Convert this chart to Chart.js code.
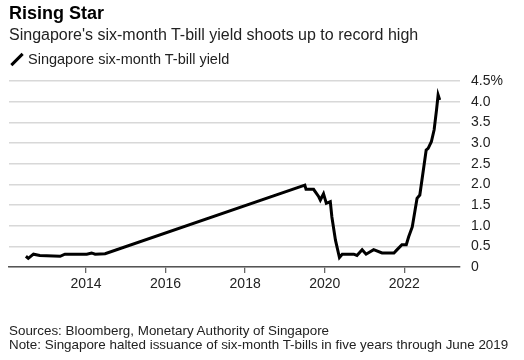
<!DOCTYPE html>
<html>
<head>
<meta charset="utf-8">
<script src="https://cdn.jsdelivr.net/npm/chart.js@4"></script>
<style>
  html, body { margin: 0; padding: 0; background: #fff; }
  body { width: 524px; height: 360px; position: relative; overflow: hidden;
         font-family: "Liberation Sans", Arial, sans-serif; color: #222; }
  .txt { position: absolute; left: 9px; white-space: nowrap; }
  #title { top: 4px; font-size: 18px; line-height: 18px; font-weight: bold; color: #000; }
  #subtitle { top: 27px; font-size: 16px; line-height: 16px; }
  #legend { top: 52px; font-size: 14.5px; line-height: 14.5px; left: 28px; }
  #legend-icon { position: absolute; left: 9px; top: 58px; width: 16px; height: 3px;
                 background: #000; transform: rotate(-45deg); }
  #footer { top: 324px; font-size: 13.4px; line-height: 14px; color: #222; }
  #wrap { position: absolute; left: 0; top: 0; width: 524px; height: 360px; }
</style>
</head>
<body>
<div id="wrap"><canvas id="chart"></canvas></div>
<div class="txt" id="title">Rising Star</div>
<div class="txt" id="subtitle">Singapore's six-month T-bill yield shoots up to record high</div>
<div id="legend-icon"></div>
<div class="txt" id="legend">Singapore six-month T-bill yield</div>
<div class="txt" id="footer">Sources: Bloomberg, Monetary Authority of Singapore<br>Note: Singapore halted issuance of six-month T-bills in five years through June 2019</div>
<script>
// Singapore six-month T-bill yield, % (dates as decimal years)
const years = [
  2012.49, 2012.55, 2012.68, 2012.84, 2013.35, 2013.47, 2014.02, 2014.14, 2014.23, 2014.48,
  2019.50, 2019.53, 2019.72, 2019.85, 2019.89, 2019.97, 2020.04, 2020.14, 2020.18, 2020.27,
  2020.37, 2020.44, 2020.73, 2020.81, 2020.94, 2021.04, 2021.23, 2021.44, 2021.74, 2021.82,
  2021.94, 2022.05, 2022.11, 2022.20, 2022.32, 2022.39, 2022.49, 2022.55, 2022.60, 2022.68,
  2022.75, 2022.81, 2022.85, 2022.89
];
const yieldPct = [
  0.26, 0.21, 0.31, 0.28, 0.26, 0.31, 0.31, 0.34, 0.31, 0.32,
  1.98, 1.88, 1.88, 1.70, 1.62, 1.77, 1.54, 1.58, 1.21, 0.65,
  0.23, 0.31, 0.31, 0.28, 0.42, 0.31, 0.42, 0.34, 0.34, 0.42,
  0.54, 0.54, 0.73, 0.97, 1.66, 1.74, 2.42, 2.83, 2.87, 3.03,
  3.32, 3.80, 4.16, 4.04
];
const xTicks = [2014, 2016, 2018, 2020, 2022];
const yTicks = [0, 0.5, 1, 1.5, 2, 2.5, 3, 3.5, 4, 4.5];
const yTickLabels = ['0', '0.5', '1.0', '1.5', '2.0', '2.5', '3.0', '3.5', '4.0', '4.5%'];

const colors = {
  line: '#000',
  grid: '#d8d8d8',
  axis: '#555',
  tick: '#666',
  text: '#222'
};

const points = years.map((x, i) => ({ x: x, y: yieldPct[i] }));

Chart.defaults.font.family = "'Liberation Sans', Arial, sans-serif";
Chart.defaults.font.size = 14;
Chart.defaults.color = colors.text;

new Chart(document.getElementById('chart'), {
  type: 'line',
  data: {
    datasets: [{
      data: points,
      borderColor: colors.line,
      borderWidth: 3,
      pointRadius: 0,
      tension: 0,
      fill: false
    }]
  },
  options: {
    responsive: true,
    maintainAspectRatio: false,
    animation: false,
    layout: { padding: { left: 9, right: 9, top: 81, bottom: 63 } },
    plugins: { legend: { display: false }, tooltip: { enabled: false } },
    scales: {
      x: {
        type: 'linear',
        min: 2012.065,
        max: 2023.4,
        afterBuildTicks: (s) => { s.ticks = xTicks.map(v => ({ value: v })); },
        afterFit: (s) => { s.height = 30; },
        grid: { drawOnChartArea: false, drawTicks: true, tickLength: 6, color: colors.tick, lineWidth: 1.3 },
        border: { color: colors.axis, width: 1.5 },
        ticks: { padding: 3, maxRotation: 0, callback: (v) => String(v) }
      },
      y: {
        position: 'right',
        min: 0,
        max: 4.5,
        afterBuildTicks: (s) => { s.ticks = yTicks.map(v => ({ value: v })); },
        afterFit: (s) => { s.width = 55; },
        grid: { color: colors.grid, lineWidth: 1.4, drawTicks: false },
        border: { display: false },
        ticks: {
          padding: 11,
          callback: (v) => yTickLabels[yTicks.indexOf(v)]
        }
      }
    }
  }
});
</script>
</body>
</html>
